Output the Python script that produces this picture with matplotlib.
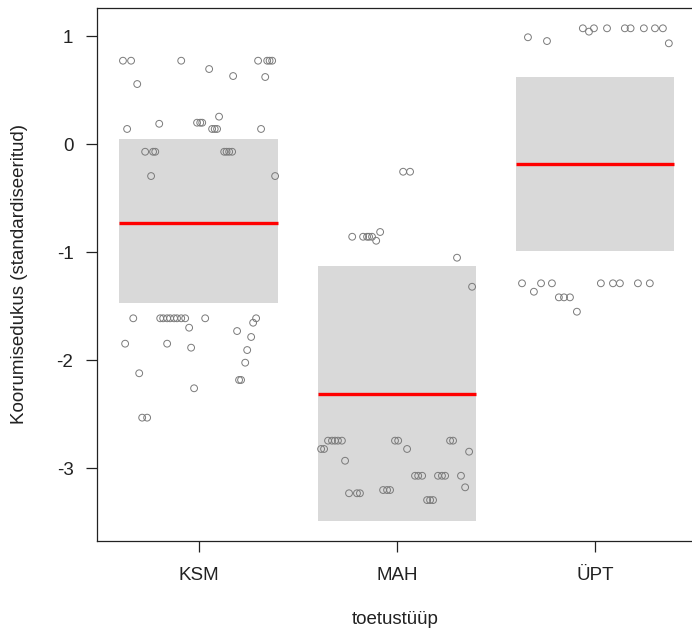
import numpy as np
import matplotlib
matplotlib.use("Agg")
import matplotlib.pyplot as plt

plt.rcParams["font.family"] = ["Liberation Sans", "DejaVu Sans"]
plt.rcParams["axes.unicode_minus"] = False

# ── Data ─────────────────────────────────────────────────────────────────────
groups = ["KSM", "MAH", "ÜPT"]
means = [-0.729, -2.31, -0.182]
band_lo = [-1.47, -3.488, -0.988]
band_hi = [0.049, -1.127, 0.623]

ksm_x = [0.618, 0.659, 0.912, 1.300, 1.346, 1.358, 1.371, 1.053, 1.174, 1.336,
         0.690, 1.103, 0.992, 1.008, 1.018, 0.801, 0.639, 1.068, 1.081, 1.093,
         1.315, 0.730, 0.770, 0.781, 1.129, 1.141, 1.154, 1.169, 0.760, 1.386,
         0.670, 0.806, 0.821, 0.841, 0.856, 0.876, 0.891, 0.912, 0.932, 1.033,
         1.290, 1.275, 0.952, 1.194, 1.265, 0.629, 0.841, 0.962, 1.245, 1.235,
         0.700, 1.204, 1.214, 0.977, 0.715, 0.740]
ksm_y = [0.774, 0.774, 0.774, 0.774, 0.774, 0.774, 0.774, 0.697, 0.632, 0.623,
         0.558, 0.256, 0.200, 0.200, 0.200, 0.190, 0.142, 0.142, 0.142, 0.142,
         0.142, -0.069, -0.069, -0.069, -0.069, -0.069, -0.069, -0.069, -0.294, -0.294,
         -1.611, -1.611, -1.611, -1.611, -1.611, -1.611, -1.611, -1.611, -1.611, -1.611,
         -1.611, -1.652, -1.698, -1.729, -1.784, -1.846, -1.846, -1.883, -1.905, -2.022,
         -2.120, -2.182, -2.182, -2.259, -2.531, -2.531]

mah_x = [2.032, 2.067, 1.916, 1.775, 1.830, 1.850, 1.860, 1.875, 1.896, 2.304,
         2.380, 1.653, 1.673, 1.688, 1.703, 1.723, 1.991, 2.007, 2.269, 2.284,
         1.618, 1.633, 2.052, 2.365, 1.739, 2.092, 2.108, 2.128, 2.208, 2.228,
         2.244, 2.324, 2.345, 1.931, 1.951, 1.966, 1.759, 1.799, 1.814, 2.153,
         2.168, 2.183]
mah_y = [-0.254, -0.254, -0.812, -0.856, -0.856, -0.856, -0.856, -0.856, -0.893, -1.050,
         -1.319, -2.744, -2.744, -2.744, -2.744, -2.744, -2.744, -2.744, -2.744, -2.744,
         -2.821, -2.821, -2.821, -2.846, -2.930, -3.069, -3.069, -3.069, -3.069, -3.069,
         -3.069, -3.069, -3.176, -3.201, -3.201, -3.201, -3.231, -3.231, -3.231, -3.294,
         -3.294, -3.294]

upt_x = [2.939, 2.995, 3.061, 3.151, 3.180, 3.247, 3.303, 3.343, 2.970, 2.662,
         2.758, 3.373, 2.632, 2.728, 2.783, 3.030, 3.091, 3.126, 3.217, 3.277,
         2.692, 2.818, 2.844, 2.874, 2.909]
upt_y = [1.074, 1.074, 1.074, 1.074, 1.074, 1.074, 1.074, 1.074, 1.043, 0.991,
         0.956, 0.935, -1.287, -1.287, -1.287, -1.287, -1.287, -1.287, -1.287, -1.287,
         -1.365, -1.417, -1.417, -1.417, -1.550]

# ── Figure ───────────────────────────────────────────────────────────────────
fig = plt.figure(figsize=(6.92, 6.35), dpi=100)
ax = fig.add_axes([97 / 692, 94 / 635, 597 / 692, 533 / 635])

pos = np.arange(1, len(groups) + 1)
bar_w = 0.8
lo = np.array(band_lo)
hi = np.array(band_hi)
ax.bar(pos, hi - lo, bottom=lo, width=bar_w, color="#D9D9D9", zorder=1)
ax.hlines(means, pos - bar_w / 2, pos + bar_w / 2, color="#FF0000", lw=2.4, zorder=2)

for xs, ys in [(ksm_x, ksm_y), (mah_x, mah_y), (upt_x, upt_y)]:
    ax.scatter(xs, ys, s=24, facecolors="none", edgecolors="#7A7A7A",
               linewidths=0.7, zorder=3)

ax.set_xlim(0.487, 3.5)
ax.set_ylim(-3.673, 1.262)
ax.set_xticks(pos)
ax.set_xticklabels(groups)
ax.set_yticks([-3, -2, -1, 0, 1])
ax.tick_params(axis="both", labelsize=13.5, length=8, width=0.9, color="#222222",
               labelcolor="#222222")
ax.tick_params(axis="y", pad=9)
ax.tick_params(axis="x", pad=11)
for side in ["left", "bottom", "top"]:
    ax.spines[side].set_linewidth(0.9)
    ax.spines[side].set_color("#222222")
ax.spines["right"].set_visible(False)

fig.text(20 / 692, 1 - 274 / 635, "Koorumisedukus (standardiseeritud)", rotation=90,
         ha="center", va="center", fontsize=13.5, color="#222222")
fig.text(395 / 692, 1 - 620 / 635, "toetustüüp", ha="center", va="center",
         fontsize=13.5, color="#222222")

fig.savefig("out.png", dpi=100, facecolor="white")
